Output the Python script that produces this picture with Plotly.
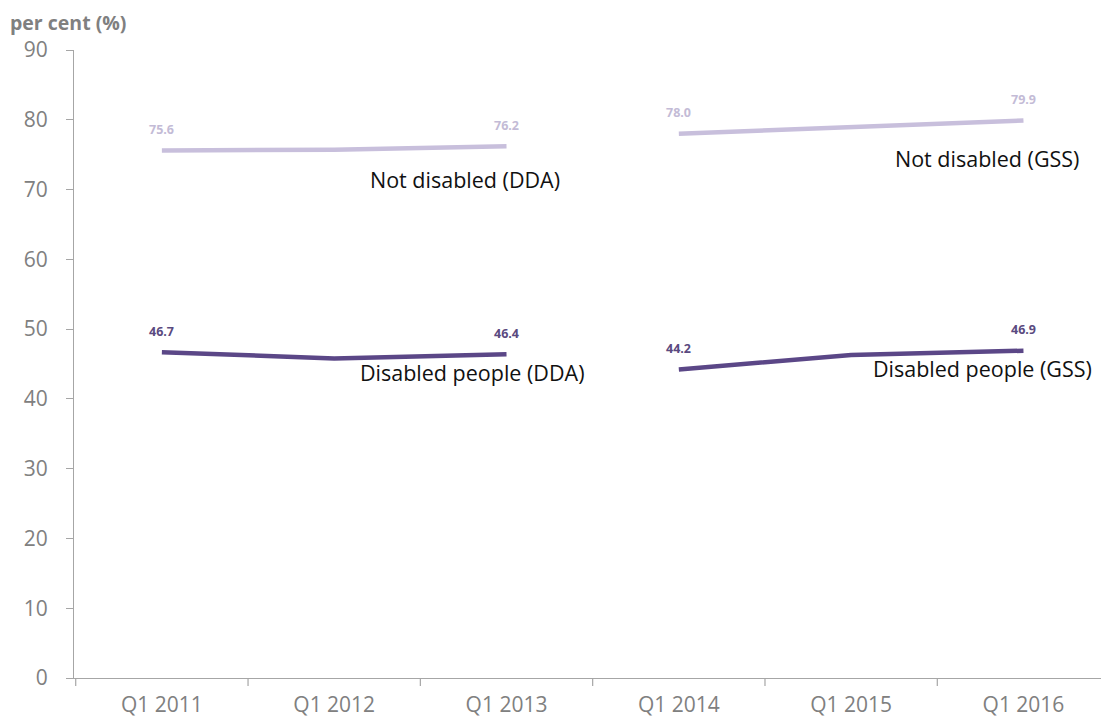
import plotly.graph_objects as go

# Quarter labels along the x axis
quarters = ["Q1 2011", "Q1 2012", "Q1 2013", "Q1 2014", "Q1 2015", "Q1 2016"]

# Employment rates (per cent), split by measurement basis
dda_quarters = ["Q1 2011", "Q1 2012", "Q1 2013"]
gss_quarters = ["Q1 2014", "Q1 2015", "Q1 2016"]
not_disabled_dda = [75.6, 75.7, 76.2]
not_disabled_gss = [78.0, 79.0, 79.9]
disabled_dda = [46.7, 45.8, 46.4]
disabled_gss = [44.2, 46.3, 46.9]

y_ticks = [0, 10, 20, 30, 40, 50, 60, 70, 80, 90]

LIGHT = "#c8bfdc"
LIGHT_TXT = "#c3bbd6"
DARK = "#5b4787"
DARK_TXT = "#5a4a80"
GREY = "#808080"
AXIS = "#a6a6a6"

idx = {q: i for i, q in enumerate(quarters)}

W, H = 1101, 722
ML, MR, MT, MB = 74, 0, 50, 44
pw, ph = W - ML - MR, H - MT - MB

fig = go.Figure()

series = [
    (dda_quarters, not_disabled_dda, LIGHT, LIGHT_TXT),
    (gss_quarters, not_disabled_gss, LIGHT, LIGHT_TXT),
    (dda_quarters, disabled_dda, DARK, DARK_TXT),
    (gss_quarters, disabled_gss, DARK, DARK_TXT),
]

annotations = []
for qs, vals, col, tcol in series:
    xs = [idx[q] for q in qs]
    fig.add_trace(go.Scatter(
        x=xs, y=vals, mode="lines",
        line=dict(color=col, width=4.5),
        hoverinfo="skip", showlegend=False,
    ))
    # value labels at the first and last point of each segment
    for j in (0, len(vals) - 1):
        annotations.append(dict(
            x=xs[j], y=vals[j], xref="x", yref="y",
            text=f"<b>{vals[j]:.1f}</b>", showarrow=False,
            yshift=21, font=dict(family="Open Sans", size=12.5, color=tcol),
        ))

# series names
names = [
    ("Not disabled (DDA)", 1.758, 71.4),
    ("Not disabled (GSS)", 4.788, 74.5),
    ("Disabled people (DDA)", 1.80, 43.8),
    ("Disabled people (GSS)", 4.76, 44.4),
]
for text, x, y in names:
    annotations.append(dict(
        x=x, y=y, xref="x", yref="y", text=text, showarrow=False,
        font=dict(family="Open Sans", size=21.5, color="#111111"),
    ))

# axis title at top-left
annotations.append(dict(
    x=(8 - ML) / pw, y=(H - MB - 22) / ph, xref="paper", yref="paper",
    text="<b>per cent (%)</b>",
    showarrow=False, xanchor="left", yanchor="middle",
    font=dict(family="Open Sans", size=19.5, color=GREY),
))

fig.update_layout(
    width=W, height=H,
    margin=dict(l=ML, r=MR, t=MT, b=MB, pad=0),
    paper_bgcolor="white", plot_bgcolor="white",
    annotations=annotations,
    font=dict(family="Open Sans", color=GREY),
)

fig.update_xaxes(
    range=[-0.51, 5.45],
    tickmode="array", tickvals=list(range(len(quarters))), ticktext=quarters,
    showgrid=False, zeroline=False,
    showline=True, linecolor=AXIS, linewidth=1.2,
    ticks="", tickfont=dict(family="Open Sans", size=21, color=GREY),
    ticklabelstandoff=8,
)
# boundary tick marks between quarters
for b in [-0.5, 0.5, 1.5, 2.5, 3.5, 4.5]:
    fig.add_shape(type="line", xref="x", yref="paper",
                  x0=b, x1=b, y0=0, y1=-8 / ph,
                  line=dict(color=AXIS, width=1.2))

fig.update_yaxes(
    range=[0, 90], tickvals=y_ticks,
    showgrid=False, zeroline=False,
    showline=True, linecolor=AXIS, linewidth=1.2,
    ticks="outside", ticklen=7, tickcolor=AXIS, tickwidth=1.2,
    tickfont=dict(family="Open Sans", size=21, color=GREY),
    ticklabelstandoff=14,
)

fig.write_html("out.html")
